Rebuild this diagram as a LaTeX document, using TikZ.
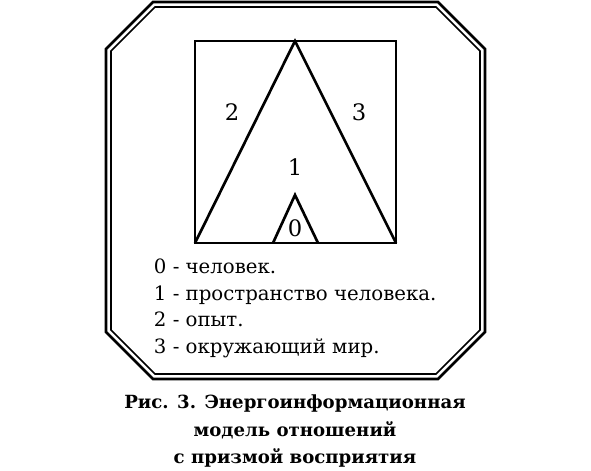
\documentclass[tikz,border=0pt]{standalone}
\usepackage{fontspec}
\setmainfont{DejaVu Serif}
\tikzset{every picture/.style={line width=0.75pt}}
\tikzset{
  framethick/.style={line width=2pt},
  framethin/.style={line width=1.2pt},
  prism/.style={line width=2pt, line join=miter},
  zone/.style={font=\fontsize{17}{20}\selectfont},
  legend/.style={anchor=base west, font=\fontsize{14.8}{17}\selectfont},
}

\begin{document}
\begin{tikzpicture}[x=0.75pt,y=0.75pt,yscale=-1,xscale=1]
	\useasboundingbox (0,0) rectangle (591,470);

	%Shape: Octagon outer
	\draw [framethick] (153,2) -- (438,2) -- (485,49) -- (485,332) -- (438,379) -- (153,379) -- (106,332) -- (106,49) -- cycle ;
	%Shape: Octagon inner
	\draw [framethin] (155,7) -- (436,7) -- (480,51) -- (480,330) -- (436,374) -- (155,374) -- (111,330) -- (111,51) -- cycle ;

	%Shape: Square
	\coordinate (sqbl) at (195,243) ;
	\coordinate (sqbr) at (396,243) ;
	\coordinate (apex) at (295,41) ;
	\draw [prism] (195,41) rectangle (396,243) ;
	%Shape: Triangle
	\draw [prism] (sqbl) -- (apex) -- (sqbr) ;
	%Shape: Triangle small
	\coordinate (manl) at (273,243) ;
	\coordinate (manr) at (318,243) ;
	\coordinate (mantop) at (295,195) ;
	\draw [prism] (manl) -- (mantop) -- (manr) ;

	% Text Node
	\node [zone] (zone2) at (232,112) {2};
	% Text Node
	\node [zone] (zone3) at (359,112) {3};
	% Text Node
	\node [zone] (zone1) at (295,167) {1};
	% Text Node
	\node [zone] (zone0) at (295,228) {0};

	% Text Node
	\node [legend] (leg0) at (149,273) {0 - человек.};
	% Text Node
	\node [legend] (leg1) at (149,300) {1 - пространство человека.};
	% Text Node
	\node [legend] (leg2) at (149,326) {2 - опыт.};
	% Text Node
	\node [legend] (leg3) at (149,353) {3 - окружающий мир.};

	% Text Node
	\node [font=\fontsize{13.6}{20.5}\selectfont\bfseries, align=center] (caption) at (295,431) {Рис. 3. Энергоинформационная\\модель отношений\\с призмой восприятия};

\end{tikzpicture}
\end{document}
